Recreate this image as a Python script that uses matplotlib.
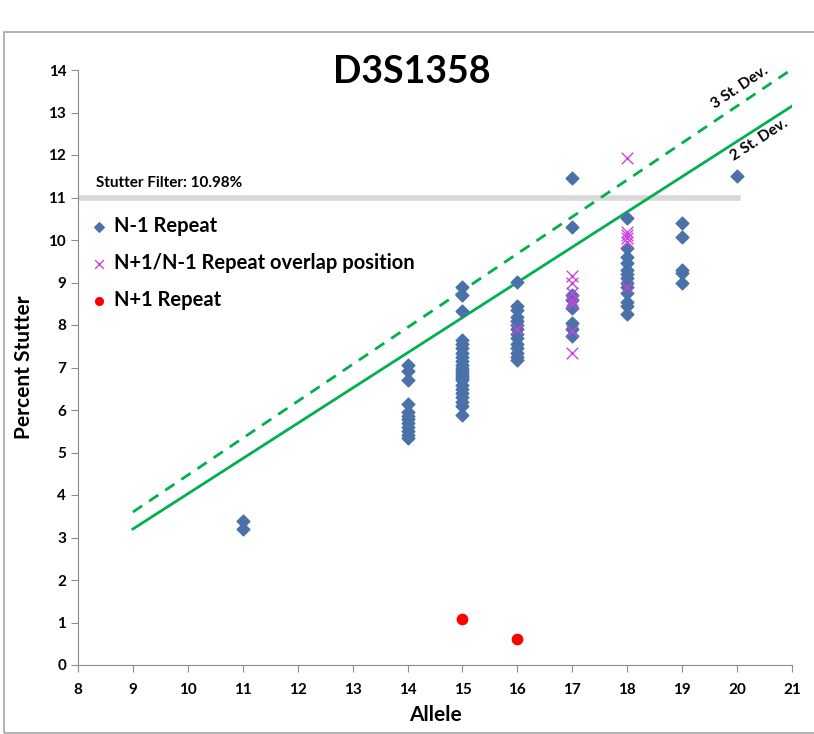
import numpy as np
import matplotlib.pyplot as plt
from matplotlib.patches import Rectangle

plt.rcParams['font.family'] = ['Lato', 'DejaVu Sans']

# N-1 Repeat (allele -> percent stutter)
n1_allele = ([11] * 2 + [14] * 12 + [15] * 24 + [16] * 14 + [17] * 8
             + [18] * 13 + [19] * 5 + [20])
n1_stutter = [3.38, 3.2,
              7.05, 6.92, 6.7, 6.15, 5.95, 5.85, 5.78, 5.7, 5.6, 5.5, 5.42, 5.35,
              8.9, 8.7, 8.32, 7.65, 7.55, 7.45, 7.35, 7.25, 7.15, 7.05, 7.0, 6.95,
              6.9, 6.85, 6.8, 6.75, 6.7, 6.6, 6.5, 6.4, 6.3, 6.2, 6.1, 5.88,
              9.02, 8.45, 8.35, 8.2, 8.1, 8.0, 7.9, 7.8, 7.7, 7.55, 7.45, 7.35, 7.25, 7.18,
              11.45, 10.3, 8.7, 8.6, 8.4, 8.05, 7.9, 7.75,
              10.52, 9.8, 9.6, 9.45, 9.3, 9.2, 9.1, 9.0, 8.9, 8.75, 8.55, 8.45, 8.25,
              10.4, 10.07, 9.3, 9.22, 9.0,
              11.5]

# N+1/N-1 overlap position
ov_allele = [16, 17, 17, 17, 17, 17, 17, 17, 18, 18, 18, 18, 18, 18]
ov_stutter = [7.9, 9.15, 9.0, 8.75, 8.6, 8.5, 7.85, 7.35, 11.93, 10.2, 10.12, 10.05, 9.95, 8.9]

# N+1 Repeat
np1_allele = [15, 16]
np1_stutter = [1.08, 0.62]

# threshold lines (x endpoints and values)
line_x = [9, 21]
sd2_y = [3.2, 13.15]
sd3_y = [3.6, 14.02]
filter_val = 10.98

W = 'bold'

fig = plt.figure(figsize=(8.14, 7.34), dpi=100)
fig.patches.append(Rectangle((4 / 814, 1 / 734), 1.2, 1 - 33 / 734,
                             transform=fig.transFigure, fill=False,
                             edgecolor='#a6a6a6', linewidth=1.2))
ax = fig.add_axes([78 / 814, 1 - 665 / 734, 714 / 814, 595 / 734])

# stutter filter line
ax.plot([8, 20.02], [filter_val, filter_val], color='#d9d9d9', linewidth=4, zorder=1)
ax.text(8.33, 11.33, 'Stutter Filter: 10.98%', fontsize=11, fontweight=W, va='center')

ax.plot(line_x, sd3_y, color='#00b050', linewidth=2, linestyle=(0, (4, 3)), zorder=2)
ax.plot(line_x, sd2_y, color='#00b050', linewidth=2, zorder=2)

ax.scatter(n1_allele, n1_stutter, marker='D', s=42, color='#4a72a8',
           label='N-1 Repeat', zorder=3)
ax.scatter(ov_allele, ov_stutter, marker='x', s=70, color='#cc44dd', linewidths=1,
           label='N+1/N-1 Repeat overlap position', zorder=4)
ax.scatter(np1_allele, np1_stutter, marker='o', s=55, color='#ff0000',
           label='N+1 Repeat', zorder=3)

ax.text(20.05, 13.6, '3 St. Dev.', rotation=34, fontsize=11, fontweight=W,
        ha='center', va='center')
ax.text(20.4, 12.35, '2 St. Dev.', rotation=33, fontsize=11, fontweight=W,
        ha='center', va='center')

ax.set_xlim(8, 21)
ax.set_ylim(0, 14)
ax.set_xticks(range(8, 22))
ax.set_yticks(range(0, 15))
for s in ['top', 'right']:
    ax.spines[s].set_visible(False)
for s in ['left', 'bottom']:
    ax.spines[s].set_color('#8c8c8c')
ax.tick_params(axis='both', length=5, color='#8c8c8c', labelsize=11)
ax.tick_params(axis='x', pad=8)
for lab in ax.get_xticklabels() + ax.get_yticklabels():
    lab.set_fontweight(W)

ax.set_xlabel('Allele', fontsize=15, fontweight=W, labelpad=6)
ax.set_ylabel('Percent Stutter', fontsize=15, fontweight=W, labelpad=10)

leg = ax.legend(loc='upper left', bbox_to_anchor=(0.0, 0.775), frameon=False,
                prop={'size': 14.5, 'weight': W}, handletextpad=0.3,
                labelspacing=0.85, handlelength=0.9, borderaxespad=0.2,
                markerscale=0.75)

fig.text(412 / 814, 1 - 72 / 734, 'D3S1358', fontsize=27, fontweight=W,
         ha='center', va='center')

fig.savefig('out.png', dpi=100)
